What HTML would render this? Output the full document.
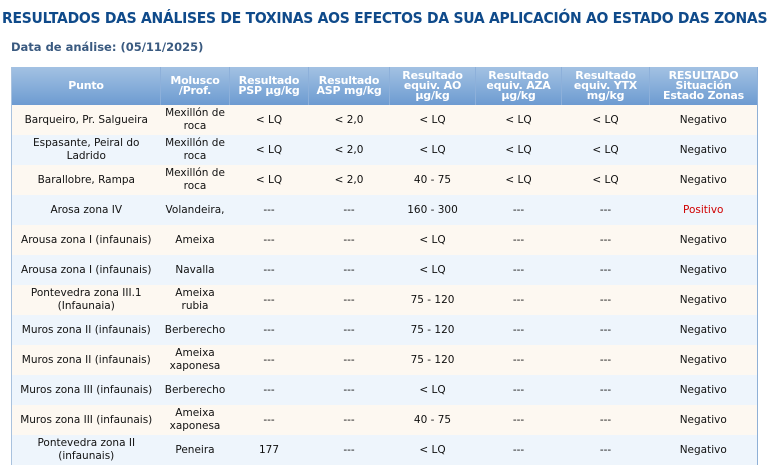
<!DOCTYPE html>
<html><head><meta charset="utf-8"><style>
body{margin:0;width:771px;height:463px;overflow:hidden;background:#fff;font-family:"DejaVu Sans","Liberation Sans",sans-serif;}
.t{position:absolute;left:2px;top:9px;font-size:15.5px;font-weight:bold;color:#0f4a8a;white-space:nowrap;letter-spacing:-0.3px;transform-origin:0 0;transform:scaleX(0.9);}
.d{position:absolute;left:11px;top:40px;font-size:11.5px;font-weight:bold;color:#3a5a80;}
table{position:absolute;left:11px;top:67px;border-collapse:collapse;table-layout:fixed;width:746px;font-size:10.5px;color:#111;border-left:1px solid #a9c2de;border-right:1px solid #8fb0d6;}
th{height:38px;padding:0;background:linear-gradient(#a3c2e3,#6d9bd1);color:#fff;font-weight:bold;font-size:11px;line-height:10px;border-right:1px solid #8db0da;letter-spacing:-0.2px}
td{height:30px;padding:0;text-align:center;line-height:13px;}
tr:nth-child(odd) td{background:#fdf8f1}
tr:nth-child(even) td{background:#eef5fc}
.p{color:#d00000}
</style></head><body>
<div class="t">RESULTADOS DAS ANÁLISES DE TOXINAS AOS EFECTOS DA SUA APLICACIÓN AO ESTADO DAS ZONAS</div>
<div class="d">Data de análise: (05/11/2025)</div>
<table>
<colgroup><col style="width:149px"><col style="width:69px"><col style="width:79px"><col style="width:81px"><col style="width:86px"><col style="width:86px"><col style="width:88px"><col style="width:108px"></colgroup>
<thead><tr><th>Punto</th><th>Molusco<br>/Prof.</th><th>Resultado<br>PSP µg/kg</th><th>Resultado<br>ASP mg/kg</th><th>Resultado<br>equiv. AO<br>µg/kg</th><th>Resultado<br>equiv. AZA<br>µg/kg</th><th>Resultado<br>equiv. YTX<br>mg/kg</th><th>RESULTADO<br>Situación<br>Estado Zonas</th></tr></thead>
<tbody>
<tr><td>Barqueiro, Pr. Salgueira</td><td>Mexillón de<br>roca</td><td>&lt; LQ</td><td>&lt; 2,0</td><td>&lt; LQ</td><td>&lt; LQ</td><td>&lt; LQ</td><td>Negativo</td></tr>
<tr><td>Espasante, Peiral do<br>Ladrido</td><td>Mexillón de<br>roca</td><td>&lt; LQ</td><td>&lt; 2,0</td><td>&lt; LQ</td><td>&lt; LQ</td><td>&lt; LQ</td><td>Negativo</td></tr>
<tr><td>Barallobre, Rampa</td><td>Mexillón de<br>roca</td><td>&lt; LQ</td><td>&lt; 2,0</td><td>40 - 75</td><td>&lt; LQ</td><td>&lt; LQ</td><td>Negativo</td></tr>
<tr><td>Arosa zona IV</td><td>Volandeira,</td><td>---</td><td>---</td><td>160 - 300</td><td>---</td><td>---</td><td class="p">Positivo</td></tr>
<tr><td>Arousa zona I (infaunais)</td><td>Ameixa</td><td>---</td><td>---</td><td>&lt; LQ</td><td>---</td><td>---</td><td>Negativo</td></tr>
<tr><td>Arousa zona I (infaunais)</td><td>Navalla</td><td>---</td><td>---</td><td>&lt; LQ</td><td>---</td><td>---</td><td>Negativo</td></tr>
<tr><td>Pontevedra zona III.1<br>(Infaunaia)</td><td>Ameixa<br>rubia</td><td>---</td><td>---</td><td>75 - 120</td><td>---</td><td>---</td><td>Negativo</td></tr>
<tr><td>Muros zona II (infaunais)</td><td>Berberecho</td><td>---</td><td>---</td><td>75 - 120</td><td>---</td><td>---</td><td>Negativo</td></tr>
<tr><td>Muros zona II (infaunais)</td><td>Ameixa<br>xaponesa</td><td>---</td><td>---</td><td>75 - 120</td><td>---</td><td>---</td><td>Negativo</td></tr>
<tr><td>Muros zona III (infaunais)</td><td>Berberecho</td><td>---</td><td>---</td><td>&lt; LQ</td><td>---</td><td>---</td><td>Negativo</td></tr>
<tr><td>Muros zona III (infaunais)</td><td>Ameixa<br>xaponesa</td><td>---</td><td>---</td><td>40 - 75</td><td>---</td><td>---</td><td>Negativo</td></tr>
<tr><td>Pontevedra zona II<br>(infaunais)</td><td>Peneira</td><td>177</td><td>---</td><td>&lt; LQ</td><td>---</td><td>---</td><td>Negativo</td></tr>
</tbody></table>
</body></html>
